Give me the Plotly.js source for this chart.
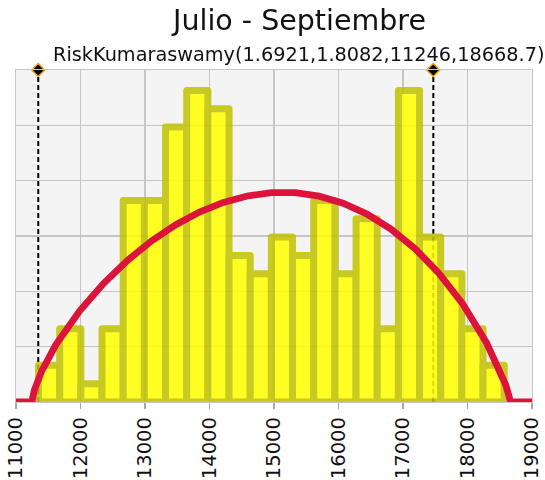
<!DOCTYPE html>
<html>
<head>
<meta charset="utf-8">
<script src="https://cdn.plot.ly/plotly-3.0.1.min.js"></script>
<style>
html,body{margin:0;padding:0;background:#fff;}
#chart{width:545px;height:480px;}
.barlayer path{stroke-linejoin:round;}
</style>
</head>
<body>
<div id="chart"></div>
<script>
// Histogram data (22 bins)
const binStart = 11349;
const binWidth = 328.2;
const counts = [2, 4, 1, 4, 11, 11, 15, 17, 16, 8, 7, 9, 8, 11, 7, 10, 4, 17, 9, 7, 4, 2];

// Fitted curve RiskKumaraswamy(1.6921,1.8082,11246,18668.7) read as density values
const curveX = [11000, 11246, 11283.1, 11320.2, 11394.5, 11617.1, 11988.3, 12359.4, 12730.5, 13101.7,
  13472.8, 13844.0, 14215.1, 14586.2, 14957.4, 15328.5, 15699.6, 16070.8, 16441.9, 16813.0,
  17184.2, 17555.3, 17926.4, 18297.6, 18483.1, 18594.5, 18668.7, 19000];
const curveY = [0, 0, 1.054e-5, 1.702e-5, 2.746e-5, 5.159e-5, 8.238e-5, 1.0725e-4, 1.2810e-4, 1.4557e-4,
  1.6002e-4, 1.7159e-4, 1.8030e-4, 1.8616e-4, 1.8914e-4, 1.8913e-4, 1.8602e-4, 1.7966e-4, 1.6985e-4, 1.5629e-4,
  1.3867e-4, 1.1641e-4, 8.858e-5, 5.329e-5, 3.121e-5, 1.510e-5, 0, 0];

// Delimiter markers
const markerX = [11345, 17470];

const tickVals = [11000, 12000, 13000, 14000, 15000, 16000, 17000, 18000, 19000];
const tickText = ['11000', '12000', '13000', '14000', '15000', '16000', '17000', '18000', '19000'];

const titleText = 'Julio - Septiembre';
const subtitleText = 'RiskKumaraswamy(1.6921,1.8082,11246,18668.7)';

const N = counts.reduce((a, b) => a + b, 0);
const barX = counts.map((c, i) => binStart + (i + 0.5) * binWidth);
const barY = counts.map(c => c / (N * binWidth));
const barW = counts.map(() => binWidth);
const yTop = 0.0003;

const FONT = 'DejaVu Sans, Verdana, sans-serif';

const traces = [
  {
    type: 'bar', x: barX, y: barY, width: barW,
    marker: { color: '#ffff00', line: { color: '#c2c200', width: 7 } },
    opacity: 0.86, hoverinfo: 'skip', showlegend: false
  },
  {
    type: 'scatter', mode: 'lines', x: curveX, y: curveY,
    line: { color: '#dc143c', width: 6.8 }, cliponaxis: false,
    hoverinfo: 'skip', showlegend: false
  },
  {
    type: 'scatter', mode: 'markers', x: markerX, y: markerX.map(() => yTop),
    marker: { symbol: 'diamond', size: 10, color: '#000000', line: { color: '#f0a000', width: 1.5 } },
    cliponaxis: false, hoverinfo: 'skip', showlegend: false
  }
];

const shapes = markerX.map(x => ({
  type: 'line', xref: 'x', yref: 'y', x0: x, x1: x, y0: 0, y1: yTop,
  line: { color: '#000000', width: 2, dash: '5px,3px' }, layer: 'below'
}));

const layout = {
  width: 545, height: 480,
  margin: { l: 16, r: 13, t: 70, b: 78, pad: 0 },
  paper_bgcolor: '#ffffff', plot_bgcolor: '#f4f4f4',
  font: { family: FONT, color: '#111111' },
  bargap: 0,
  xaxis: {
    range: [11000, 19000], tickmode: 'array', tickvals: tickVals, ticktext: tickText,
    tickangle: -90, tickfont: { size: 19.5, family: FONT, color: '#111111' },
    ticks: 'outside', ticklen: 6, tickcolor: '#a8a8a8', tickwidth: 1.3,
    showgrid: true, gridcolor: '#c6c6c6', gridwidth: 1.3,
    showline: true, linecolor: '#c6c6c6', linewidth: 1.3, mirror: true,
    zeroline: false, fixedrange: true
  },
  yaxis: {
    range: [0, yTop], dtick: 0.00005, tick0: 0, showticklabels: false, ticks: '',
    showgrid: true, gridcolor: '#c6c6c6', gridwidth: 1.3,
    showline: true, linecolor: '#c6c6c6', linewidth: 1.3, mirror: true,
    zeroline: false, fixedrange: true
  },
  shapes: shapes,
  annotations: [
    {
      text: titleText, xref: 'paper', yref: 'paper', x: (298 - 16) / 516, y: 1.092,
      xanchor: 'center', yanchor: 'bottom', showarrow: false,
      font: { family: FONT, size: 28.5, color: '#111111' }
    },
    {
      text: subtitleText, xref: 'paper', yref: 'paper', x: (298 - 16) / 516, y: 1.007,
      xanchor: 'center', yanchor: 'bottom', showarrow: false,
      font: { family: FONT, size: 19.3, color: '#111111' }
    }
  ]
};

Plotly.newPlot('chart', traces, layout, { staticPlot: true, displayModeBar: false });
</script>
</body>
</html>
